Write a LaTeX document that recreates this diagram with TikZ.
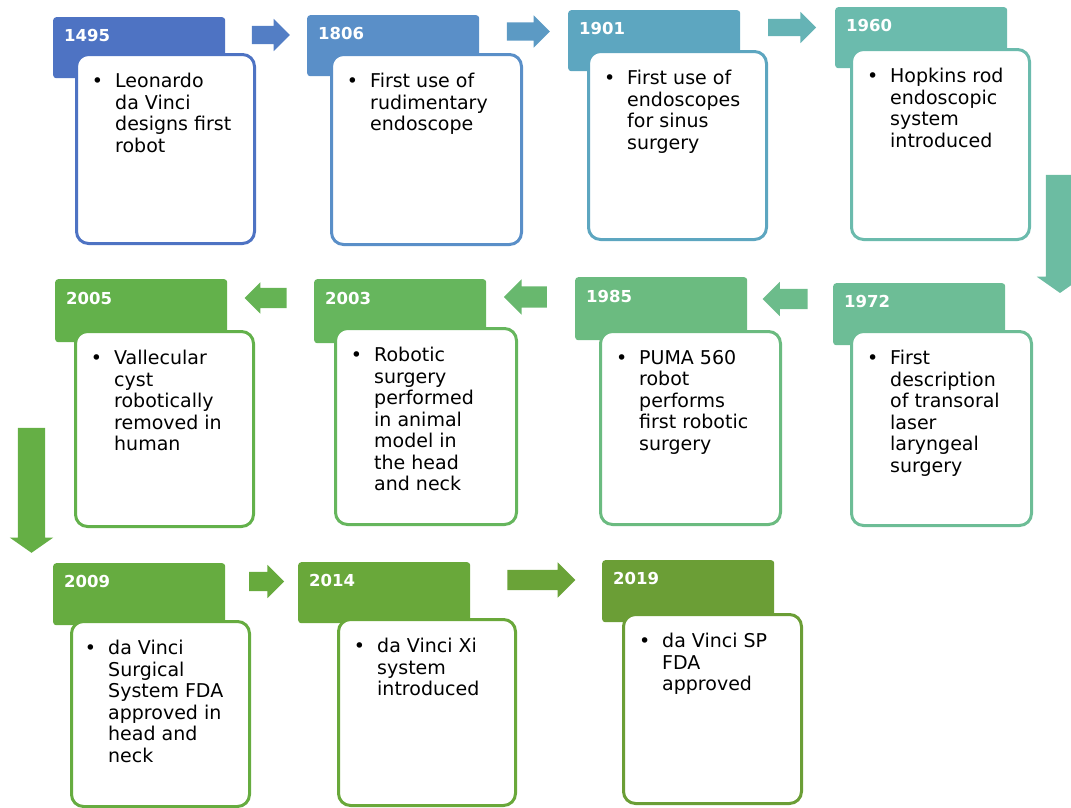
\documentclass[tikz,border=0pt]{standalone}
\usepackage{fontspec}
\setmainfont{DejaVu Sans}
\usetikzlibrary{shapes.arrows,calc}
\definecolor{c1495}{HTML}{4E73C3}
\definecolor{c1806}{HTML}{5A8FC8}
\definecolor{c1901}{HTML}{5DA6C0}
\definecolor{c1960}{HTML}{6BBBAD}
\definecolor{c1972}{HTML}{6DBD96}
\definecolor{c1985}{HTML}{6BBB80}
\definecolor{c2003}{HTML}{66B65D}
\definecolor{c2005}{HTML}{63B14B}
\definecolor{c2009}{HTML}{66AC40}
\definecolor{c2014}{HTML}{69A83A}
\definecolor{c2019}{HTML}{6B9E36}
\tikzset{
  yearbox/.style={anchor=north west, rectangle, rounded corners=3pt,
    inner xsep=11pt, inner ysep=0pt, text width=150pt, text height=24pt,
    text depth=37pt, align=left, text=white,
    font=\fontsize{16.5}{18}\selectfont\bfseries},
  eventbox/.style={anchor=north west, rectangle, rounded corners=12pt,
    line width=3pt, fill=white, inner sep=0pt},
  eventtext/.style={anchor=north west, inner sep=0pt, align=left,
    font=\fontsize{19}{21.5}\selectfont},
  flowarrow/.style={single arrow, draw=none, inner sep=10pt,
    single arrow head extend=7pt},
}
\newcommand{\bul}{\llap{\textbullet\hspace{12pt}}}

\begin{document}
\begin{tikzpicture}[x=1pt,y=-1pt]

  \useasboundingbox (0,0) rectangle (1071,807);

  %% row 1
  \node[yearbox, fill=c1495, minimum height=61pt] (h1495) at (53,17) {1495};
  \node[eventbox, draw=c1495, minimum width=178pt, minimum height=189pt] (b1495) at (75,53) {};
  \node[eventtext] (t1495) at ($(b1495.north west)+(40,20)$)
  {\bul Leonardo\\da Vinci\\designs first\\robot};

  \node[yearbox, fill=c1806] (h1806) at (307,15) {1806};
  \node[eventbox, draw=c1806, minimum width=190pt, minimum height=190pt] (b1806) at (330,53) {};
  \node[eventtext] (t1806) at ($(b1806.north west)+(40,20)$)
  {\bul First use of\\rudimentary\\endoscope};

  \node[yearbox, fill=c1901] (h1901) at (568,10) {1901};
  \node[eventbox, draw=c1901, minimum width=178pt, minimum height=188pt] (b1901) at (587,50) {};
  \node[eventtext] (t1901) at ($(b1901.north west)+(40,20)$)
  {\bul First use of\\endoscopes\\for sinus\\surgery};

  \node[yearbox, fill=c1960] (h1960) at (835,7) {1960};
  \node[eventbox, draw=c1960, minimum width=178pt, minimum height=190pt] (b1960) at (850,48) {};
  \node[eventtext] (t1960) at ($(b1960.north west)+(40,20)$)
  {\bul Hopkins rod\\endoscopic\\system\\introduced};

  %% row 2
  \node[yearbox, fill=c1972, minimum height=62pt] (h1972) at (833,283) {1972};
  \node[eventbox, draw=c1972, minimum width=180pt, minimum height=194pt] (b1972) at (850,330) {};
  \node[eventtext] (t1972) at ($(b1972.north west)+(40,20)$)
  {\bul First\\description\\of transoral\\laser\\laryngeal\\surgery};

  \node[yearbox, fill=c1985, minimum height=63pt] (h1985) at (575,277) {1985};
  \node[eventbox, draw=c1985, minimum width=180pt, minimum height=193pt] (b1985) at (599,330) {};
  \node[eventtext] (t1985) at ($(b1985.north west)+(40,20)$)
  {\bul PUMA 560\\robot\\performs\\first robotic\\surgery};

  \node[yearbox, fill=c2003, minimum height=64pt] (h2003) at (314,279) {2003};
  \node[eventbox, draw=c2003, minimum width=181pt, minimum height=196pt] (b2003) at (334,327) {};
  \node[eventtext] (t2003) at ($(b2003.north west)+(40,20)$)
  {\bul Robotic\\surgery\\performed\\in animal\\model in\\the head\\and neck};

  \node[yearbox, fill=c2005, minimum height=63pt] (h2005) at (55,279) {2005};
  \node[eventbox, draw=c2005, minimum width=178pt, minimum height=195pt] (b2005) at (74,330) {};
  \node[eventtext] (t2005) at ($(b2005.north west)+(40,20)$)
  {\bul Vallecular\\cyst\\robotically\\removed in\\human};

  %% row 3
  \node[yearbox, fill=c2009, minimum height=62pt] (h2009) at (53,563) {2009};
  \node[eventbox, draw=c2009, minimum width=178pt, minimum height=185pt] (b2009) at (70,620) {};
  \node[eventtext] (t2009) at ($(b2009.north west)+(38,20)$)
  {\bul da Vinci\\Surgical\\System FDA\\approved in\\head and\\neck};

  \node[yearbox, fill=c2014] (h2014) at (298,562) {2014};
  \node[eventbox, draw=c2014, minimum width=177pt, minimum height=186pt] (b2014) at (337,618) {};
  \node[eventtext] (t2014) at ($(b2014.north west)+(40,20)$)
  {\bul da Vinci Xi\\system\\introduced};

  \node[yearbox, fill=c2019, minimum height=62pt] (h2019) at (602,560) {2019};
  \node[eventbox, draw=c2019, minimum width=178pt, minimum height=189pt] (b2019) at (622,613) {};
  \node[eventtext] (t2019) at ($(b2019.north west)+(40,20)$)
  {\bul da Vinci SP\\FDA\\approved};

  %% arrows
  \node[flowarrow, fill=c1495!60!c1806, minimum height=38pt, inner sep=9pt]
  (a1) at ($(h1495.north east)!.5!(h1806.north west)+(0,19)$) {};
  \node[flowarrow, fill=c1806!50!c1901, minimum height=43pt, inner sep=9pt]
  (a2) at ($(h1806.north east)!.5!(h1901.north west)+(0,19)$) {};
  \node[flowarrow, fill=c1901!40!c1960, minimum height=48pt, inner sep=8.5pt]
  (a3) at ($(h1901.north east)!.5!(h1960.north west)+(0,19)$) {};
  \node[flowarrow, fill=c1960!50!c1972, rotate=-90, minimum height=118pt, inner sep=14pt,
  single arrow head extend=9pt, single arrow tip angle=110] (a4) at (1060,229) {};

  \node[flowarrow, fill=c1972!50!c1985, rotate=180, minimum height=45pt]
  (a5) at ($(h1972.north west)!.5!(h1985.north east)+(0,19)$) {};
  \node[flowarrow, fill=c1985!50!c2003, rotate=180, minimum height=43pt, inner sep=10.5pt]
  (a6) at ($(h1985.north west)!.5!(h2003.north east)+(0,19)$) {};
  \node[flowarrow, fill=c2003!50!c2005, rotate=180, minimum height=42pt, single arrow head extend=5.5pt]
  (a7) at ($(h2003.north west)!.5!(h2005.north east)+(0,19)$) {};
  \node[flowarrow, fill=c2005!50!c2009, rotate=-90, minimum height=125pt, inner sep=13.5pt,
  single arrow head extend=8pt, single arrow tip angle=110] (a8) at (31.5,485.5) {};

  \node[flowarrow, fill=c2009!50!c2014, minimum height=35pt, inner sep=9.5pt]
  (a9) at ($(h2009.north east)!.5!(h2014.north west)+(0,19)$) {};
  \node[flowarrow, fill=c2014!50!c2019, minimum height=68pt, single arrow head extend=7.5pt]
  (a10) at ($(h2014.north east)!.5!(h2019.north west)+(0,19)$) {};

\end{tikzpicture}
\end{document}
